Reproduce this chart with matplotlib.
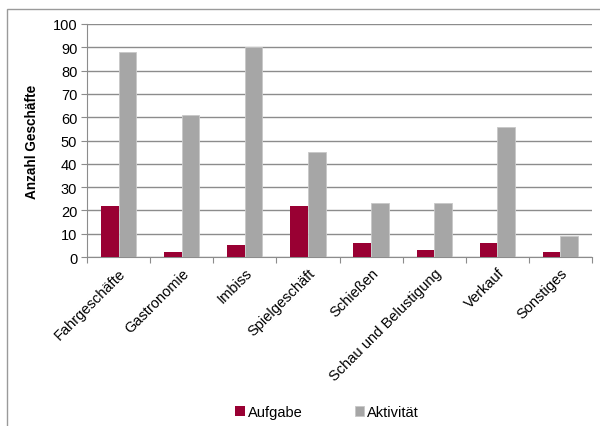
import matplotlib.pyplot as plt
import numpy as np
from matplotlib.patches import Rectangle

plt.rcParams['font.family'] = ['Liberation Sans', 'DejaVu Sans']

categories = ["Fahrgeschäfte", "Gastronomie", "Imbiss", "Spielgeschäft", "Schießen",
              "Schau und Belustigung", "Verkauf", "Sonstiges"]
aufgabe = [22, 2, 5, 22, 6, 3, 6, 2]
aktivitaet = [88, 61, 90, 45, 23, 23, 56, 9]

RED = "#990033"
GRAY = "#A6A6A6"
LINE = "#8C8C8C"

fig = plt.figure(figsize=(6.0, 4.27), dpi=100)
# outer chart frame (runs past the right and bottom edge)
fig.patches.append(Rectangle((7 / 600, -0.05), 1.2, 1 - 10 / 427 + 0.05, transform=fig.transFigure,
                             fill=False, edgecolor="#9A9A9A", linewidth=1.0))

ax = fig.add_axes([87 / 600, 1 - 258 / 427, (592 - 87) / 600, (258 - 25) / 427])

x = np.arange(len(categories))
w = 0.28
ax.bar(x - w / 2, aufgabe, w, color=RED, label="Aufgabe", zorder=3)
ax.bar(x + w / 2, aktivitaet, w, color=GRAY, edgecolor="#C8C8C8", linewidth=0.6,
       label="Aktivität", zorder=3)

ax.set_xlim(-0.5, len(categories) - 0.5)
ax.set_ylim(0, 100)
ax.set_yticks(range(0, 101, 10))
ax.yaxis.grid(True, color=LINE, linewidth=1.0, zorder=0)

for s in ["top", "right"]:
    ax.spines[s].set_visible(False)
ax.spines["left"].set_color(LINE)
ax.spines["bottom"].set_color(LINE)

ax.tick_params(axis="y", length=4, color=LINE, labelsize=10.5, pad=3)
ax.set_xticks(np.arange(len(categories) + 1) - 0.5, minor=False)
ax.set_xticklabels([])
ax.tick_params(axis="x", which="major", length=4, color=LINE)
ax.set_xticks(x, minor=True)
ax.set_xticklabels(categories, minor=True, rotation=45, ha="right", rotation_mode="anchor",
                   fontsize=10.5)
ax.tick_params(axis="x", which="minor", length=0, pad=6)

ax.set_ylabel("Anzahl Geschäfte", fontweight="bold", fontsize=9.8, labelpad=10)

fig.legend(loc="center", bbox_to_anchor=(0.545, 1 - 413 / 427), ncol=2, frameon=False,
           fontsize=10.5, handlelength=0.65, handleheight=0.65, handletextpad=0.2,
           columnspacing=3.6)

fig.savefig("out.png", dpi=100)
